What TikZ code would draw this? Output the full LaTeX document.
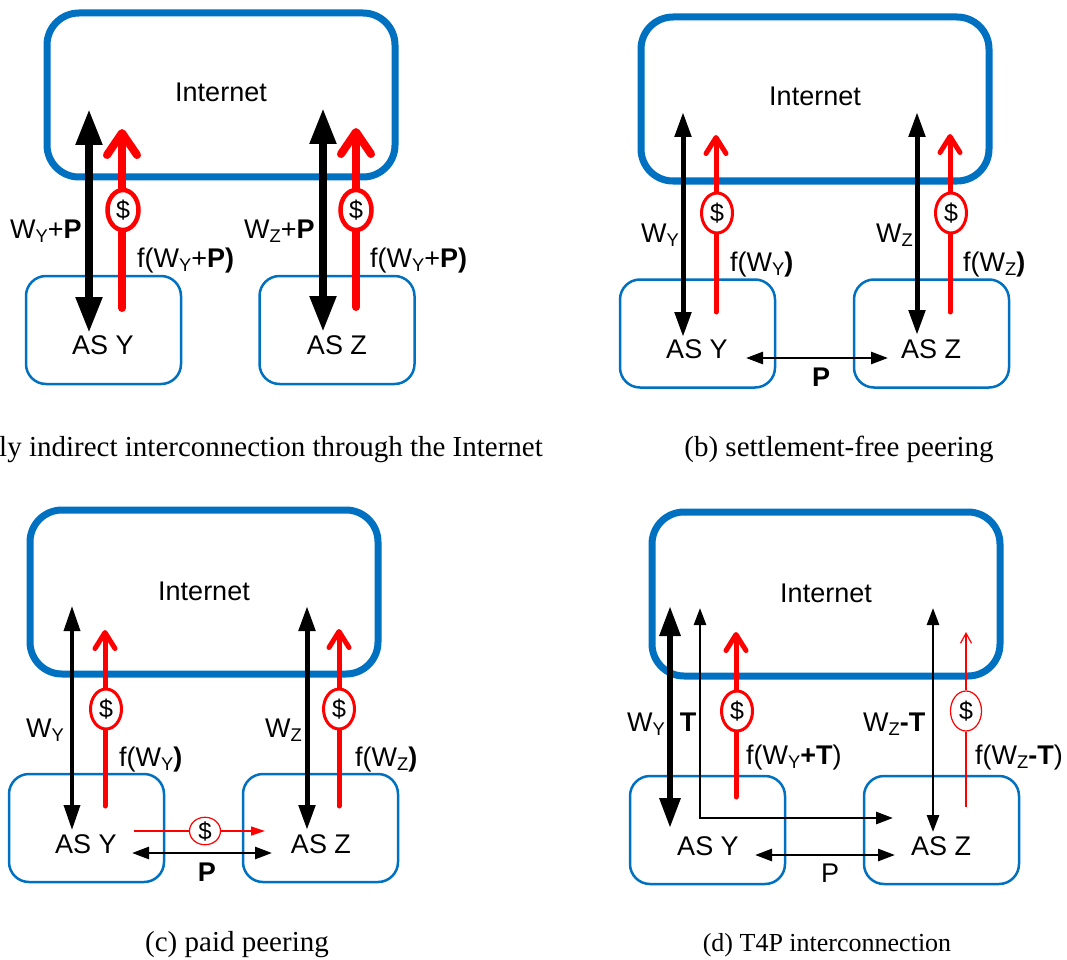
\documentclass[tikz,border=0pt]{standalone}
\usepackage{fontspec}
\usepackage{graphicx}
\setmainfont{Liberation Sans}
\newfontfamily\capfont{Liberation Serif}
\usetikzlibrary{arrows.meta,shapes.geometric}
\newcommand{\subs}[1]{\raisebox{-0.17em}{\scalebox{0.68}{#1}}}
\definecolor{netblue}{RGB}{0,112,192}
\definecolor{payred}{RGB}{255,0,0}
\tikzset{
	lab/.style={font=\fontsize{27}{29}\selectfont,inner sep=0pt,anchor=base west},
	captext/.style={font=\capfont\fontsize{29}{31}\selectfont,inner sep=0pt,anchor=base},
	net/.style={draw=netblue,line width=7pt,rounded corners=32pt,minimum width=348pt,minimum height=164pt,inner sep=0pt},
	as/.style={draw=netblue,line width=2.5pt,rounded corners=20pt,minimum width=155pt,minimum height=108pt,inner sep=0pt},
	astext/.style={font=\fontsize{27}{29}\selectfont,inner sep=0pt,anchor=base},
	thick b/.style={line width=8pt,{Triangle[length=36pt,width=25pt]}-{Triangle[length=36pt,width=25pt]}},
	mid b/.style={line width=5pt,{Triangle[length=25pt,width=16pt]}-{Triangle[length=25pt,width=16pt]}},
	thin b/.style={line width=2.7pt,{Triangle[length=17pt,width=12pt]}-{Triangle[length=17pt,width=12pt]}},
	thick r/.style={payred,line width=8pt,line cap=round,-{Straight Barb[round,length=22pt,width=30pt]}},
	mid r/.style={payred,line width=5pt,line cap=round,-{Straight Barb[round,length=16pt,width=20pt]}},
	thin r/.style={payred,line width=1.2pt,-{Straight Barb[length=10pt,width=11pt]}},
	dollar/.style={ellipse,draw=payred,line width=#1,fill=white,minimum width=31pt,minimum height=40pt,inner sep=0pt,font=\fontsize{25}{27}\selectfont},
}
\begin{document}
\begin{tikzpicture}[x=1pt,y=-1pt]
	\useasboundingbox (0,0) rectangle (1067,960);

	\begin{scope}[name prefix=a]
		\node[net] (net) at (221,95) {};
		\node[astext] (tn) at (221,102) {Internet};
		\node[as] (y) at (103.5,330) {};
		\node[as] (z) at (337,330) {};
		\node[astext] (ty) at (103,354) {AS Y};
		\node[astext] (tz) at (337,354) {AS Z};
		\coordinate (bt) at (89,109);
		\coordinate (bb) at (89,333);
		\draw[thick b] (bt) -- (bb);
		\coordinate (ct) at (323,108);
		\coordinate (cb) at (323,332);
		\draw[thick b] (ct) -- (cb);
		\coordinate (rt) at (122,129);
		\coordinate (rb) at (122,308);
		\coordinate (st) at (356,128);
		\coordinate (sb) at (356,307);
		\node[dollar=4.5pt] (d1) at (123,210) {\$};
		\node[dollar=4.5pt] (d2) at (356,210) {\$};
		\draw[payred,line width=8pt,line cap=round] (rb) -- (d1.south -| rb);
		\draw[thick r] (d1.north -| rt) -- (rt);
		\draw[payred,line width=8pt,line cap=round] (sb) -- (d2.south -| sb);
		\draw[thick r] (d2.north -| st) -- (st);
		\node[lab] (l1) at (10,238) {W\subs{Y}+\textbf{P}};
		\node[lab] (l2) at (244,238) {W\subs{Z}+\textbf{P}};
		\node[lab] (l3) at (137,267) {f(W\subs{Y}+\textbf{P)}};
		\node[lab] (l4) at (370,267) {f(W\subs{Y}+\textbf{P)}};
		\node[captext,anchor=base east] (c) at (543,456) {ly indirect interconnection through the Internet};
	\end{scope}

	\begin{scope}[name prefix=b]
		\node[net] (net) at (815,99) {};
		\node[astext] (tn) at (815,106) {Internet};
		\node[as] (y) at (697.5,333.5) {};
		\node[as] (z) at (931.5,333.5) {};
		\node[astext] (ty) at (697,358) {AS Y};
		\node[astext] (tz) at (931,358) {AS Z};
		\coordinate (bt) at (683,112);
		\coordinate (bb) at (683,337);
		\draw[mid b] (bt) -- (bb);
		\coordinate (ct) at (917,112);
		\coordinate (cb) at (917,335);
		\draw[mid b] (ct) -- (cb);
		\coordinate (rt) at (716,135);
		\coordinate (rb) at (716,312);
		\coordinate (st) at (950,134);
		\coordinate (sb) at (950,312);
		\node[dollar=3pt] (d1) at (717,213) {\$};
		\node[dollar=3pt] (d2) at (951,213) {\$};
		\draw[payred,line width=5pt,line cap=round] (rb) -- (d1.south -| rb);
		\draw[mid r] (d1.north -| rt) -- (rt);
		\draw[payred,line width=5pt,line cap=round] (sb) -- (d2.south -| sb);
		\draw[mid r] (d2.north -| st) -- (st);
		\coordinate (pl) at (746,358);
		\coordinate (pr) at (888,358);
		\draw[thin b] (pl) -- (pr);
		\node[lab] (l1) at (641,242) {W\subs{Y}};
		\node[lab] (l2) at (876,242) {W\subs{Z}};
		\node[lab] (l3) at (730,271) {f(W\subs{Y}\textbf{)}};
		\node[lab] (l4) at (963,271) {f(W\subs{Z}\textbf{)}};
		\node[lab,anchor=base] (p) at (821,386) {\textbf{P}};
		\node[captext] (c) at (839,456) {(b) settlement-free peering};
	\end{scope}

	\begin{scope}[name prefix=c]
		\node[net] (net) at (204,592) {};
		\node[astext] (tn) at (204,600) {Internet};
		\node[as] (y) at (86.5,828) {};
		\node[as] (z) at (320.5,828) {};
		\node[astext] (ty) at (86,853) {AS Y};
		\node[astext] (tz) at (321,853) {AS Z};
		\coordinate (bt) at (72,606);
		\coordinate (bb) at (72,830);
		\draw[mid b,line width=3.5pt] (bt) -- (bb);
		\coordinate (ct) at (307,606);
		\coordinate (cb) at (307,830);
		\draw[mid b] (ct) -- (cb);
		\coordinate (rt) at (105,630);
		\coordinate (rb) at (105,806);
		\coordinate (st) at (339,629);
		\coordinate (sb) at (339,806);
		\node[dollar=3pt] (d1) at (106,709) {\$};
		\node[dollar=3pt] (d2) at (339,709) {\$};
		\draw[payred,line width=5pt,line cap=round] (rb) -- (d1.south -| rb);
		\draw[mid r] (d1.north -| rt) -- (rt);
		\draw[payred,line width=5pt,line cap=round] (sb) -- (d2.south -| sb);
		\draw[mid r] (d2.north -| st) -- (st);
		\coordinate (ml) at (134,831);
		\coordinate (mr) at (265,831);
		\node[ellipse,draw=payred,line width=1.2pt,fill=white,minimum width=31pt,minimum height=25pt,inner sep=0pt,font=\fontsize{24}{26}\selectfont] (d3) at (205,831) {\$};
		\draw[payred,line width=1.2pt] (ml) -- (d3);
		\draw[payred,line width=1.2pt,-{Triangle[length=14pt,width=9pt]}] (d3) -- (mr);
		\coordinate (pl) at (132,853);
		\coordinate (pr) at (272,853);
		\draw[thin b] (pl) -- (pr);
		\node[lab] (l1) at (26,737) {W\subs{Y}};
		\node[lab] (l2) at (265,737) {W\subs{Z}};
		\node[lab] (l3) at (119,766) {f(W\subs{Y}\textbf{)}};
		\node[lab] (l4) at (355,766) {f(W\subs{Z}\textbf{)}};
		\node[lab,anchor=base] (p) at (207,881) {\textbf{P}};
		\node[captext] (c) at (237,951) {(c) paid peering};
	\end{scope}

	\begin{scope}[name prefix=d]
		\node[net] (net) at (826,594) {};
		\node[astext] (tn) at (826,602) {Internet};
		\node[as] (y) at (707.5,830) {};
		\node[as] (z) at (941.5,830) {};
		\node[astext] (ty) at (708,855) {AS Y};
		\node[astext] (tz) at (941,855) {AS Z};
		\coordinate (bt) at (670,606);
		\coordinate (bb) at (670,828);
		\draw[line width=6pt,{Triangle[length=30pt,width=20pt]}-{Triangle[length=30pt,width=20pt]}] (bt) -- (bb);
		\coordinate (gt) at (700,608);
		\coordinate (gc) at (700,818);
		\coordinate (gr) at (893,818);
		\draw[thin b] (gt) -- (gc) -- (gr);
		\coordinate (ct) at (933,608);
		\coordinate (cb) at (933,832);
		\draw[thin b] (ct) -- (cb);
		\coordinate (rt) at (736,632);
		\coordinate (rb) at (736,797);
		\coordinate (st) at (966,632);
		\coordinate (sb) at (966,807);
		\node[dollar=3pt] (d1) at (737,711) {\$};
		\node[dollar=1.2pt] (d2) at (966,711) {\$};
		\draw[payred,line width=5pt,line cap=round] (rb) -- (d1.south -| rb);
		\draw[mid r] (d1.north -| rt) -- (rt);
		\draw[payred,line width=1.2pt] (sb) -- (d2);
		\draw[thin r] (d2) -- (st);
		\coordinate (pl) at (755,855);
		\coordinate (pr) at (895,855);
		\draw[thin b] (pl) -- (pr);
		\node[lab] (l1) at (627,731) {W\subs{Y}};
		\node[lab,anchor=base] (t1) at (688,731) {\textbf{T}};
		\node[lab] (l2) at (863,731) {W\subs{Z}\textbf{-T}};
		\node[lab] (l3) at (746,764) {f(W\subs{Y}\textbf{+T})};
		\node[lab] (l4) at (975,764) {f(W\subs{Z}\textbf{-T})};
		\node[lab,anchor=base] (p) at (830,882) {P};
		\node[captext,font=\capfont\fontsize{26}{28}\selectfont] (c) at (827,951) {(d) T4P interconnection};
	\end{scope}
\end{tikzpicture}
\end{document}
